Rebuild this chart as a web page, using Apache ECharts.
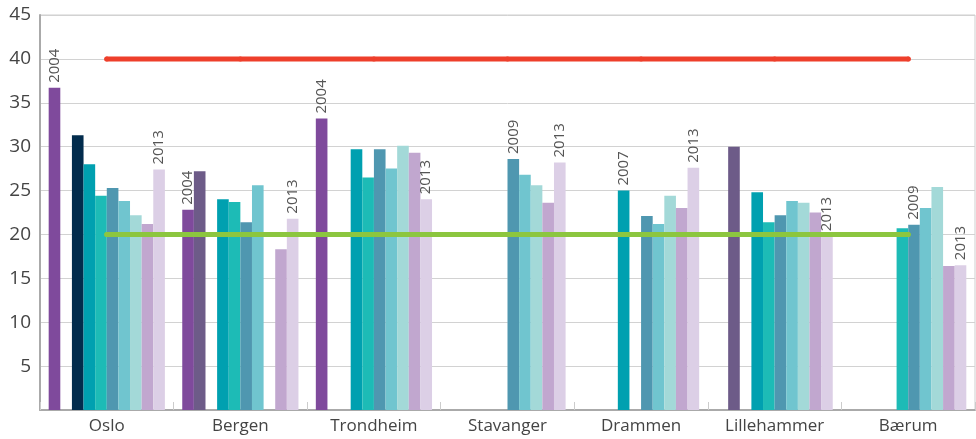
<!DOCTYPE html>
<html>
<head>
<meta charset="utf-8">
<script src="https://cdn.jsdelivr.net/npm/echarts@6/dist/echarts.min.js"></script>
<style>
  html, body { margin: 0; padding: 0; background: #fff; }
  #chart { width: 976px; height: 439px; }
</style>
</head>
<body>
<div id="chart"></div>
<script>
// byer og år
var cities = ["Oslo", "Bergen", "Trondheim", "Stavanger", "Drammen", "Lillehammer", "Bærum"];
var years = ["2004", "2005", "2006", "2007", "2008", "2009", "2010", "2011", "2012", "2013"];

// verdier per år (en verdi per by, null = mangler)
var v2004 = [36.7, 22.8, 33.2, null, null, null, null];
var v2005 = [null, 27.2, null, null, null, 30.0, null];
var v2006 = [31.3, null, null, null, null, null, null];
var v2007 = [28.0, 24.0, 29.7, null, 25.0, 24.8, null];
var v2008 = [24.4, 23.7, 26.5, null, null, 21.4, 20.7];
var v2009 = [25.3, 21.4, 29.7, 28.6, 22.1, 22.2, 21.1];
var v2010 = [23.8, 25.6, 27.5, 26.8, 21.2, 23.8, 23.0];
var v2011 = [22.2, null, 30.1, 25.6, 24.4, 23.6, 25.4];
var v2012 = [21.2, 18.3, 29.3, 23.6, 23.0, 22.5, 16.4];
var v2013 = [27.4, 21.8, 24.0, 28.2, 27.6, 19.8, 16.5];
var values = [v2004, v2005, v2006, v2007, v2008, v2009, v2010, v2011, v2012, v2013];

// grenseverdier
var redLimit = [40, 40, 40, 40, 40, 40, 40];
var greenLimit = [20, 20, 20, 20, 20, 20, 20];

// hvilke søyler som får årstall over seg: [by, år]
var yearLabels = [[0, "2004"], [0, "2013"], [1, "2004"], [1, "2013"], [2, "2004"], [2, "2013"],
  [3, "2009"], [3, "2013"], [4, "2007"], [4, "2013"], [5, "2013"], [6, "2009"], [6, "2013"]];

var colors = ["#7f4a9c", "#6d5b88", "#022c4d", "#00a0b0", "#1dbbb6", "#4f97b0",
  "#70c5cf", "#a3d9d8", "#c1a7cf", "#dccfe6"];

function hasLabel(ci, year) {
  for (var i = 0; i < yearLabels.length; i++) {
    if (yearLabels[i][0] === ci && yearLabels[i][1] === year) return true;
  }
  return false;
}

var series = [];
years.forEach(function (year, yi) {
  series.push({
    name: year,
    type: "bar",
    barGap: 0,
    barCategoryGap: "13%",
    itemStyle: { color: colors[yi] },
    data: values[yi].map(function (v, ci) {
      return {
        value: v,
        label: { show: v !== null && hasLabel(ci, year) }
      };
    }),
    label: {
      position: "top",
      distance: 5,
      rotate: 90,
      align: "left",
      verticalAlign: "middle",
      color: "#555",
      fontSize: 15,
      fontFamily: "Open Sans",
      formatter: function () { return year; }
    }
  });
});

function limitLine(data, color) {
  return {
    type: "line",
    data: data,
    z: 5,
    symbol: "circle",
    symbolSize: 5,
    itemStyle: { color: color },
    lineStyle: { color: color, width: 5, cap: "round" },
    silent: true
  };
}
series.push(limitLine(redLimit, "#ee3f2b"));
series.push(limitLine(greenLimit, "#8cc63f"));

var chart = echarts.init(document.getElementById("chart"));
var option = {
  animation: false,
  grid: {
    left: 40, right: 1, top: 15, bottom: 29,
    outerBoundsMode: "none",
    show: true, borderColor: "#cfcfcf", borderWidth: 1
  },
  xAxis: {
    type: "category",
    data: cities,
    axisLine: { lineStyle: { color: "#aaa", width: 2 } },
    axisTick: { show: true, inside: true, length: 8, lineStyle: { color: "#ccc" } },
    axisLabel: { color: "#444", fontSize: 17, fontFamily: "Open Sans", margin: 8 }
  },
  yAxis: {
    type: "value",
    min: 0, max: 45, interval: 5,
    axisLine: { show: true, lineStyle: { color: "#aaa", width: 2 } },
    axisTick: { show: false },
    splitLine: { lineStyle: { color: "#d2d2d2", width: 1 } },
    axisLabel: {
      color: "#444", fontSize: 19, fontFamily: "Open Sans", margin: 9,
      formatter: function (v) { return v === 0 ? "" : v; }
    }
  },
  series: series
};
chart.setOption(option);
</script>
</body>
</html>
